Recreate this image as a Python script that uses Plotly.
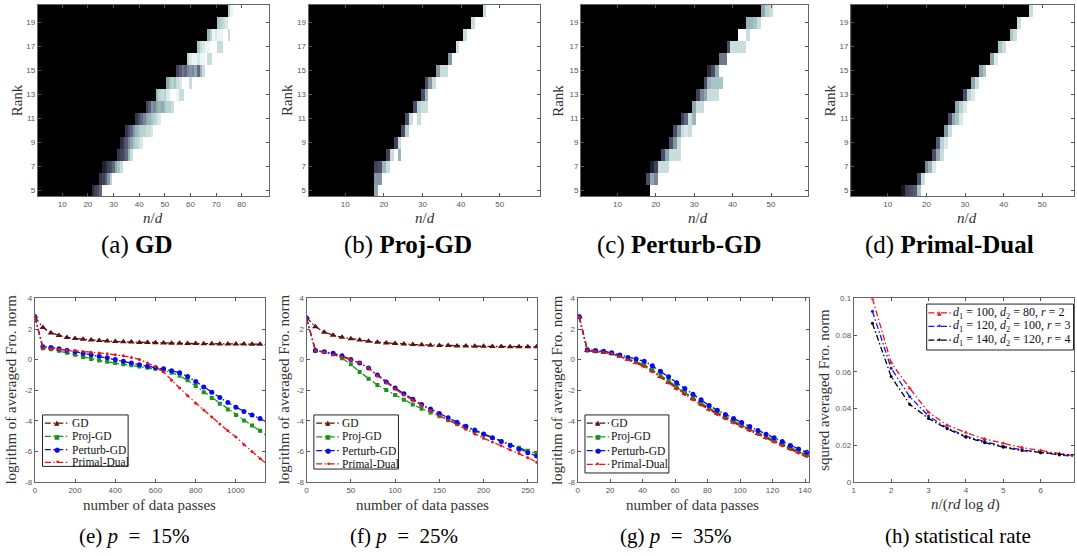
import plotly.graph_objects as go

W, H = 1077, 556

# ------------------------------------------------------------------
# Phase-transition heatmaps (rows: rank 5..20, columns: n/d = 1..N)
# each row: first transition column, then transition values (0 = fail, 1 = success)
# ------------------------------------------------------------------
ranks = list(range(5, 21))

gd_ncols = 90
gd_start = [22, 25, 26, 32, 33, 35, 39, 43, 47, 51, 55, 59, 63, 67, 71, 75]
gd_trans = [
    [0.2, 0.3, 0.35, 0.45],
    [0.25, 0.3, 0.4, 0.6, 0.8],
    [0.15, 0.2, 0.3, 0.35, 0.45, 0.65, 0.75, 0.85],
    [0.25, 0.3, 0.35, 0.45, 0.7, 0.85],
    [0.2, 0.3, 0.4, 0.55, 0.65, 0.75, 0.8, 0.85, 0.9],
    [0.25, 0.35, 0.45, 0.6, 0.7, 0.75, 0.8, 0.8, 0.85, 0.85, 0.9],
    [0.25, 0.35, 0.45, 0.55, 0.65, 0.7, 0.75, 0.8, 0.85, 0.9],
    [0.3, 0.4, 0.6, 0.55, 0.65, 0.7, 0.65, 0.75, 0.8, 0.8, 0.85],
    [0.7, 0.8, 0.85, 0.8, 0.9, 0.95, 1, 1, 0.95, 0.85, 0.85],
    [0.65, 0.75, 0.8, 0.75, 0.85, 0.9, 1, 1, 1, 0.85],
    [0.3, 0.4, 0.5, 0.45, 0.55, 0.6, 0.55, 0.65, 0.45, 0.7, 0.85],
    [0.8, 0.9, 0.95, 0.95, 0.9, 0.95, 0.95, 1, 0.85, 0.85],
    [0.75, 0.85, 0.9, 0.95, 0.95, 1, 1, 1, 0.85, 0.85],
    [0.7, 0.8, 0.95, 0.9, 0.95, 0.95, 1, 1, 0.85],
    [0.75, 0.8, 0.85, 0.9],
    [0.8, 0.95],
]

proj_ncols = 60
proj_start = [18, 18, 18, 21, 23, 25, 26, 28, 30, 31, 34, 37, 39, 41, 43, 46]
proj_trans = [
    [0.65],
    [0.6, 0.6],
    [0.3, 0.35, 0.7, 0.85],
    [0.3, 0.85, 1, 0.7],
    [0.3, 0.85],
    [0.35, 0.8],
    [0.35, 0.85, 1, 0.85],
    [0.35, 0.8, 0.85, 0.85],
    [0.35, 0.7],
    [0.35, 0.6, 0.85],
    [0.6, 0.85, 0.85],
    [0.6],
    [0.85],
    [0.85],
    [0.85],
    [0.85],
]

pert_ncols = 60
pert_start = [19, 18, 19, 22, 24, 25, 27, 30, 31, 33, 34, 37, 39, 42, 44, 48]
pert_trans = [
    [],
    [0.35, 0.65, 0.55],
    [0.15, 0.3, 0.85, 0.85, 0.85],
    [0.35, 0.65, 0.85, 0.85, 0.85],
    [0.35, 0.6, 0.85],
    [0.35, 0.6, 0.85, 0.9, 0.85],
    [0.3, 0.45, 0.85, 0.7],
    [0.65, 0.85, 0.85],
    [0.3, 0.55, 0.65, 0.85, 0.85, 0.85],
    [0.35, 0.7, 0.75, 0.75, 0.75],
    [0.2, 0.35, 0.65],
    [0.5, 0.5],
    [0.35, 0.85, 0.85, 0.85, 0.85],
    [1, 1, 0.85],
    [0.7, 0.7, 0.75, 0.85],
    [0.65, 0.8, 0.85],
]

pd_ncols = 60
pd_start = [14, 18, 20, 22, 23, 25, 26, 28, 30, 32, 34, 37, 39, 42, 44, 47]
pd_trans = [
    [0.1, 0.3, 0.35, 0.4, 0.75],
    [0.35, 0.85],
    [0.55, 0.7, 0.9],
    [0.35, 0.65, 0.85],
    [0.4, 0.8, 0.9],
    [0.6, 0.85],
    [0.35, 0.65, 0.75, 0.9],
    [0.65, 0.8, 0.9],
    [0.35, 0.8, 0.9],
    [0.65, 0.85],
    [0.65, 0.75],
    [0.65, 0.9],
    [0.75, 0.85],
    [0.75, 0.85],
    [0.85],
    [0.85],
]

# ------------------------------------------------------------------
# Convergence curves (log of averaged Fro. norm vs number of data passes)
# ------------------------------------------------------------------
passes_e = list(range(0, 1161, 40))
gd_e = [2.8, 2.1, 1.75, 1.58, 1.45, 1.38, 1.33, 1.28, 1.25, 1.22, 1.19, 1.17, 1.15, 1.13, 1.12,
        1.1, 1.09, 1.08, 1.07, 1.06, 1.05, 1.04, 1.04, 1.03, 1.03, 1.02, 1.02, 1.01, 1.01, 1.0]
proj_e = [2.8, 0.75, 0.68, 0.58, 0.45, 0.32, 0.18, 0.05, -0.05, -0.14, -0.22, -0.3, -0.37, -0.44, -0.52,
          -0.6, -0.7, -0.85, -1.05, -1.35, -1.72, -2.12, -2.5, -2.88, -3.25, -3.62, -3.97, -4.3, -4.65, -5.05]
pert_e = [2.8, 0.85, 0.8, 0.72, 0.62, 0.52, 0.42, 0.32, 0.22, 0.12, 0.02, -0.1, -0.22, -0.33, -0.43,
          -0.52, -0.6, -0.72, -0.85, -1.1, -1.42, -1.78, -2.12, -2.47, -2.8, -3.1, -3.38, -3.62, -3.85, -4.1]
pd_e = [2.8, 0.75, 0.72, 0.68, 0.62, 0.58, 0.53, 0.48, 0.44, 0.38, 0.32, 0.25, 0.15, 0.02, -0.22,
        -0.45, -0.8, -1.35, -1.85, -2.35, -2.84, -3.29, -3.74, -4.2, -4.65, -5.05, -5.55, -6.0, -6.45, -6.9]

passes_f = list(range(0, 261, 10))
gd_f = [2.75, 2.15, 1.8, 1.6, 1.47, 1.37, 1.28, 1.2, 1.14, 1.09, 1.05, 1.02, 0.99, 0.97, 0.95,
        0.93, 0.92, 0.9, 0.89, 0.88, 0.87, 0.86, 0.86, 0.85, 0.85, 0.84, 0.84]
proj_f = [2.7, 0.58, 0.5, 0.35, 0.1, -0.3, -0.8, -1.25, -1.65, -1.98, -2.3, -2.62, -2.92, -3.2, -3.45,
          -3.7, -3.95, -4.2, -4.45, -4.68, -4.9, -5.12, -5.33, -5.55, -5.75, -5.95, -6.12]
pert_f = [2.7, 0.6, 0.52, 0.42, 0.25, 0.02, -0.22, -0.55, -1.0, -1.45, -1.85, -2.22, -2.58, -2.92, -3.22,
          -3.52, -3.8, -4.08, -4.35, -4.6, -4.85, -5.1, -5.35, -5.6, -5.85, -6.08, -6.3]
pd_f = [2.7, 0.6, 0.48, 0.33, 0.18, 0.0, -0.2, -0.55, -1.05, -1.5, -1.92, -2.3, -2.65, -3.0, -3.32,
        -3.65, -3.95, -4.25, -4.55, -4.85, -5.13, -5.38, -5.63, -5.88, -6.12, -6.4, -6.7]

passes_g = list(range(1, 147, 5))
gd_g = [2.8, 0.6, 0.55, 0.5, 0.4, 0.23, 0.03, -0.17, -0.4, -0.73, -1.1, -1.48, -1.85, -2.2, -2.55,
        -2.9, -3.22, -3.52, -3.8, -4.07, -4.32, -4.58, -4.83, -5.08, -5.32, -5.56, -5.8, -6.03, -6.25, -6.5]
proj_g = [2.8, 0.6, 0.55, 0.5, 0.4, 0.25, 0.05, -0.12, -0.33, -0.65, -1.0, -1.38, -1.75, -2.12, -2.48,
          -2.82, -3.15, -3.45, -3.73, -4.0, -4.25, -4.52, -4.77, -5.02, -5.26, -5.5, -5.74, -5.97, -6.2, -6.45]
pert_g = [2.8, 0.65, 0.6, 0.55, 0.45, 0.3, 0.15, 0.05, -0.1, -0.4, -0.75, -1.12, -1.5, -1.88, -2.25,
          -2.62, -3.0, -3.3, -3.58, -3.85, -4.1, -4.37, -4.62, -4.87, -5.1, -5.35, -5.6, -5.83, -6.05, -6.3]
pd_g = [2.8, 0.6, 0.55, 0.5, 0.4, 0.2, 0.0, -0.22, -0.45, -0.78, -1.15, -1.53, -1.92, -2.27, -2.62,
        -2.96, -3.28, -3.58, -3.86, -4.13, -4.38, -4.64, -4.89, -5.14, -5.38, -5.62, -5.86, -6.09, -6.32, -6.6]

# statistical rate
ratio_h = [1.5, 2, 2.5, 3, 3.5, 4, 4.5, 5, 5.5, 6, 6.5, 7]
err_r2 = [0.1, 0.065, 0.051, 0.038, 0.031, 0.027, 0.0235, 0.0212, 0.0188, 0.0172, 0.0155, 0.014]
err_r3 = [0.093, 0.062, 0.0465, 0.036, 0.0295, 0.025, 0.0222, 0.0195, 0.0176, 0.016, 0.0148, 0.0137]
err_r4 = [0.0865, 0.0575, 0.0423, 0.0347, 0.029, 0.0245, 0.0215, 0.019, 0.0172, 0.016, 0.0152, 0.0148]

method_names = ['GD', 'Proj-GD', 'Perturb-GD', 'Primal-Dual']
setting_names = ['<i>d</i><sub>1</sub>\u00a0=\u00a0100,\u00a0<i>d</i><sub>2</sub>\u00a0=\u00a080,\u00a0<i>r</i>\u00a0=\u00a02',
                 '<i>d</i><sub>1</sub>\u00a0=\u00a0120,\u00a0<i>d</i><sub>2</sub>\u00a0=\u00a0100,\u00a0<i>r</i>\u00a0=\u00a03',
                 '<i>d</i><sub>1</sub>\u00a0=\u00a0140,\u00a0<i>d</i><sub>2</sub>\u00a0=\u00a0120,\u00a0<i>r</i>\u00a0=\u00a04']

rank_ticks = [5, 7, 9, 11, 13, 15, 17, 19]
log_ticks = [-8, -6, -4, -2, 0, 2, 4]
log_ticktext = ['-8', '-6', '-4', '-2', '0', '2', '4']
rate_ticks = [0, 0.02, 0.04, 0.06, 0.08, 0.1]
rate_ticktext = ['0', '0.02', '0.04', '0.06', '0.08', '0.1']

# ------------------------------------------------------------------
def fx(px):
    return px / W


def fy(py):
    return 1 - py / H


def build(start, trans, ncols):
    z = []
    for s, t in zip(start, trans):
        row = [0.0] * (s - 1) + list(t)
        row += [1.0] * (ncols - len(row))
        z.append(row)
    return z


bone = [[0.0, 'rgb(0,0,0)'], [0.375, 'rgb(81,81,113)'],
        [0.75, 'rgb(166,198,198)'], [1.0, 'rgb(255,255,255)']]

SERIF = 'Liberation Serif, Times New Roman, serif'
SANS = 'Liberation Sans, Arial, sans-serif'
tickfont = dict(family=SANS, size=8, color='#555555')

fig = go.Figure()

heat_panels = [
    ('x', 'y', gd_start, gd_trans, gd_ncols),
    ('x2', 'y2', proj_start, proj_trans, proj_ncols),
    ('x3', 'y3', pert_start, pert_trans, pert_ncols),
    ('x4', 'y4', pd_start, pd_trans, pd_ncols),
]
for xa, ya, st, tr, nc in heat_panels:
    fig.add_trace(go.Heatmap(z=build(st, tr, nc), x=list(range(1, nc + 1)), y=ranks,
                             colorscale=bone, zmin=0, zmax=1, showscale=False,
                             xaxis=xa, yaxis=ya, hoverinfo='skip'))

DASH = '6px,2.5px,1.5px,2.5px'
c_gd = 'rgb(95,15,15)'
c_proj = 'rgb(25,150,25)'
c_pert = 'rgb(10,10,235)'
c_pd = 'rgb(235,20,20)'
method_styles = [(c_gd, 'triangle-up', 6, '\u25B2', 7), (c_proj, 'square', 4, '\u25A0', 6),
                 (c_pert, 'circle', 5, '\u25CF', 7), (c_pd, 'circle', 3, '\u2022', 9)]
setting_styles = [('rgb(240,20,20)', 'triangle-up', 4, '\u25B2', 6),
                  ('rgb(20,20,240)', 'circle', 3, '\u2022', 8),
                  ('rgb(0,0,0)', 'circle', 3, '\u2022', 8)]


def add_curves(xs, ys_list, xa, ya):
    for name, (col, sym, sz, _, _), ys in zip(method_names, method_styles, ys_list):
        fig.add_trace(go.Scatter(x=xs, y=ys, name=name, mode='lines+markers',
                                 line=dict(color=col, width=1.3, dash=DASH),
                                 marker=dict(symbol=sym, size=sz, color=col),
                                 xaxis=xa, yaxis=ya, showlegend=False))


add_curves(passes_e, [gd_e, proj_e, pert_e, pd_e], 'x5', 'y5')
add_curves(passes_f, [gd_f, proj_f, pert_f, pd_f], 'x6', 'y6')
add_curves(passes_g, [gd_g, proj_g, pert_g, pd_g], 'x7', 'y7')

for name, ys, (col, sym, sz, _, _) in zip(setting_names, [err_r2, err_r3, err_r4], setting_styles):
    fig.add_trace(go.Scatter(x=ratio_h, y=ys, name=name, mode='lines+markers',
                             line=dict(color=col, width=1.3, dash=DASH),
                             marker=dict(symbol=sym, size=sz, color=col),
                             xaxis='x8', yaxis='y8', showlegend=False))


def axis(dom, rng, tickvals, ticktext=None, anchor=None):
    d = dict(domain=dom, range=rng, tickvals=tickvals, ticks='inside', ticklen=3,
             tickwidth=1, tickcolor='#555555', showline=True, linecolor='#666666',
             linewidth=1, mirror='ticks', showgrid=False, zeroline=False,
             tickfont=tickfont, anchor=anchor, fixedrange=True)
    if ticktext is not None:
        d['ticktext'] = ticktext
    return d


top_y = [fy(195.4), fy(0.7)]
bot_y = [fy(486), fy(299.3)]

layout_axes = dict(
    xaxis=axis([fx(36), fx(268)], [0.5, 90.5], [10, 20, 30, 40, 50, 60, 70, 80], anchor='y'),
    yaxis=axis(top_y, [4.5, 20.5], rank_ticks, anchor='x'),
    xaxis2=axis([fx(308), fx(540.7)], [0.5, 60.5], [10, 20, 30, 40, 50], anchor='y2'),
    yaxis2=axis(top_y, [4.5, 20.5], rank_ticks, anchor='x2'),
    xaxis3=axis([fx(581.7), fx(810)], [0.5, 59.7], [10, 20, 30, 40, 50], anchor='y3'),
    yaxis3=axis(top_y, [4.5, 20.5], rank_ticks, anchor='x3'),
    xaxis4=axis([fx(853), fx(1077)], [0.5, 58.2], [10, 20, 30, 40, 50], anchor='y4'),
    yaxis4=axis(top_y, [4.5, 20.5], rank_ticks, anchor='x4'),
    xaxis5=axis([fx(33), fx(264.3)], [0, 1145], [0, 200, 400, 600, 800, 1000], anchor='y5'),
    yaxis5=axis(bot_y, [-8, 4], log_ticks, log_ticktext, anchor='x5'),
    xaxis6=axis([fx(306), fx(537.7)], [0, 260.6], [0, 50, 100, 150, 200, 250], anchor='y6'),
    yaxis6=axis(bot_y, [-8, 4], log_ticks, log_ticktext, anchor='x6'),
    xaxis7=axis([fx(578.3), fx(810.7)], [0, 142.4], [0, 20, 40, 60, 80, 100, 120, 140], anchor='y7'),
    yaxis7=axis(bot_y, [-8, 4], log_ticks, log_ticktext, anchor='x7'),
    xaxis8=axis([fx(855.7), fx(1077)], [1, 6.89], [1, 2, 3, 4, 5, 6], anchor='y8'),
    yaxis8=axis(bot_y, [0, 0.1], rate_ticks, rate_ticktext, anchor='x8'),
)

ann = []
shapes = []


def text(s, xpx, ypx, size=15, angle=0, color='#333333', xanchor='center'):
    ann.append(dict(text=s, x=fx(xpx), y=fy(ypx), xref='paper', yref='paper', showarrow=False,
                    xanchor=xanchor, yanchor='middle', textangle=angle, borderpad=0,
                    font=dict(family=SERIF, size=size, color=color)))


def glyph(g, col, size, xpx, ypx):
    ann.append(dict(text=g, x=fx(xpx), y=fy(ypx), xref='paper', yref='paper', showarrow=False,
                    xanchor='center', yanchor='middle', borderpad=0,
                    font=dict(family='DejaVu Sans', size=size, color=col)))


def key_legend(box, names, styles, x0, x1, xt, ys, size):
    shapes.append(dict(type='rect', xref='paper', yref='paper', layer='above',
                       x0=fx(box[0]), x1=fx(box[1]), y0=fy(box[3]), y1=fy(box[2]),
                       line=dict(color='#222222', width=1), fillcolor='white'))
    for name, (col, _, _, g, gs), y in zip(names, styles, ys):
        shapes.append(dict(type='line', xref='paper', yref='paper', layer='above',
                           x0=fx(x0), x1=fx(x1), y0=fy(y), y1=fy(y),
                           line=dict(color=col, width=1.3, dash=DASH)))
        glyph(g, col, gs, (x0 + x1) / 2, y)
        text(name, xt, y, size=size, color='#111111', xanchor='left')


key_legend((40.7, 126.7, 417.7, 470), method_names, method_styles, 43, 68, 69.5,
           [426, 439.5, 453, 466], 11.5)
key_legend((313.3, 398.3, 417.7, 472.7), method_names, method_styles, 315.7, 340, 340.7,
           [426, 440, 454, 467.5], 11.5)
key_legend((585.7, 670, 417.7, 476.7), method_names, method_styles, 587.5, 610, 610.7,
           [426, 440, 454, 468], 11.5)
key_legend((929, 1076.5, 305, 351.7), setting_names, setting_styles, 930.7, 953.3, 954,
           [314, 327.7, 341.7], 12)

# top-row axis titles
for xr, xn in [(15, 152), (287, 425), (559, 699), (832, 970)]:
    text('Rank', xr, 98, size=15, angle=-90)
    text('<i>n</i>/<i>d</i>', xn, 218, size=15)

# bottom-row axis titles
for xr, xn in [(9, 148), (283, 422), (557, 694)]:
    text('logrithm of averaged Fro. norm', xr, 392, size=15, angle=-90)
    text('number of data passes', xn, 509, size=15)
text('squred averaged Fro. norm', 825, 392, size=15, angle=-90)
text('<i>n</i>/(<i>rd</i>\u00a0log\u00a0<i>d</i>)', 968, 509, size=15)

# captions
caps_top = [('(a) <b>GD</b>', 136), ('(b) <b>Proj-GD</b>', 408),
            ('(c) <b>Perturb-GD</b>', 681), ('(d) <b>Primal-Dual</b>', 952)]
for s, xc in caps_top:
    text(s, xc, 245, size=25, color='black')
caps_bot = [('(e) <i>p</i>\u00a0\u00a0=\u00a0\u00a015%', 133), ('(f) <i>p</i>\u00a0\u00a0=\u00a0\u00a025%', 404),
            ('(g) <i>p</i>\u00a0\u00a0=\u00a0\u00a035%', 677), ('(h) statistical rate', 960)]
for s, xc in caps_bot:
    text(s, xc, 541, size=21, color='black')

fig.update_layout(
    width=W, height=H, autosize=False,
    margin=dict(l=0, r=0, t=0, b=0, pad=0),
    paper_bgcolor='white', plot_bgcolor='white',
    showlegend=False,
    annotations=ann,
    shapes=shapes,
    **layout_axes,
)

fig.write_html("out.html", config={'displayModeBar': False},
               post_script="document.body.style.margin='0';")
